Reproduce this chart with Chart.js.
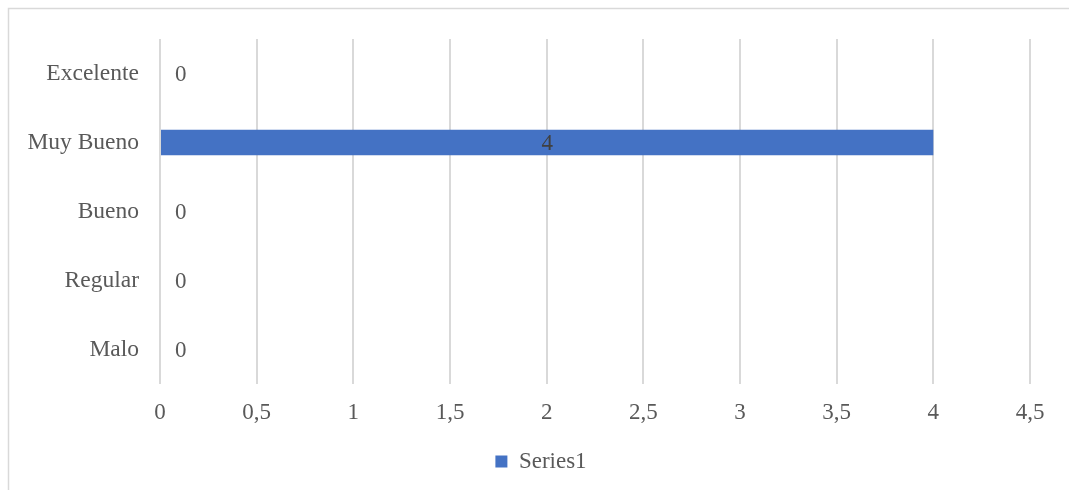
<!DOCTYPE html>
<html>
<head>
<meta charset="utf-8">
<script src="https://cdn.jsdelivr.net/npm/chart.js@4"></script>
<style>
  html, body { margin: 0; padding: 0; background: #ffffff; }
  #wrap { width: 1069px; height: 490px; position: relative; }
</style>
</head>
<body>
<div id="wrap"><canvas id="c" width="1069" height="490"></canvas></div>
<script>
const categories = ['Excelente', 'Muy Bueno', 'Bueno', 'Regular', 'Malo'];
const seriesName = 'Series1';
const seriesValues = [0, 4, 0, 0, 0];
const xTickLabels = ['0', '0,5', '1', '1,5', '2', '2,5', '3', '3,5', '4', '4,5'];

const FONT = '"Liberation Serif", "Times New Roman", serif';
const GRAY = '#595959';

const borderPlugin = {
  id: 'outerBorder',
  beforeDraw(chart) {
    const ctx = chart.ctx;
    ctx.save();
    ctx.strokeStyle = '#d9d9d9';
    ctx.lineWidth = 1.5;
    ctx.strokeRect(8.5, 8.5, chart.width + 20, chart.height + 20);
    ctx.restore();
  }
};

const legendShift = {
  id: 'legendShift',
  afterLayout(chart) {
    if (chart.legend) { chart.legend.left += 52; }
  }
};

const labelPlugin = {
  id: 'valueLabels',
  afterDatasetsDraw(chart) {
    const ctx = chart.ctx;
    const meta = chart.getDatasetMeta(0);
    const data = chart.data.datasets[0].data;
    ctx.save();
    ctx.font = '23px ' + FONT;
    ctx.textBaseline = 'middle';
    meta.data.forEach((el, i) => {
      const v = data[i];
      const txt = String(v).replace('.', ',');
      if (v === 0) {
        ctx.fillStyle = GRAY;
        ctx.textAlign = 'left';
        ctx.fillText(txt, el.base + 15, el.y + 1);
      } else {
        ctx.fillStyle = '#404040';
        ctx.textAlign = 'center';
        ctx.fillText(txt, (el.x + el.base) / 2, el.y + 1);
      }
    });
    ctx.restore();
  }
};

new Chart(document.getElementById('c'), {
  type: 'bar',
  data: {
    labels: categories,
    datasets: [{
      label: seriesName,
      data: seriesValues,
      backgroundColor: '#4472C4',
      borderWidth: 0,
      categoryPercentage: 1,
      barPercentage: 0.366
    }]
  },
  options: {
    indexAxis: 'y',
    responsive: false,
    animation: false,
    layout: { padding: { top: 39, right: 39, left: 0, bottom: 7 } },
    plugins: {
      legend: {
        position: 'bottom',
        labels: {
          boxWidth: 12,
          boxHeight: 12,
          padding: 10,
          color: GRAY,
          font: { family: FONT, size: 23 }
        }
      },
      tooltip: { enabled: false }
    },
    scales: {
      x: {
        min: 0,
        max: 4.5,
        ticks: {
          stepSize: 0.5,
          color: GRAY,
          padding: 15,
          font: { family: FONT, size: 23 },
          maxRotation: 0,
          callback: (v, i) => xTickLabels[i]
        },
        grid: { color: '#d9d9d9', lineWidth: 2, drawTicks: false },
        border: { display: false },
        afterFit(scale) { scale.height = 56; }
      },
      y: {
        ticks: {
          color: GRAY,
          padding: 21,
          font: { family: FONT, size: 23.5 }
        },
        grid: { display: false, drawTicks: false },
        border: { display: false },
        afterFit(scale) { scale.width = 160; }
      }
    }
  },
  plugins: [borderPlugin, legendShift, labelPlugin]
});
</script>
</body>
</html>
